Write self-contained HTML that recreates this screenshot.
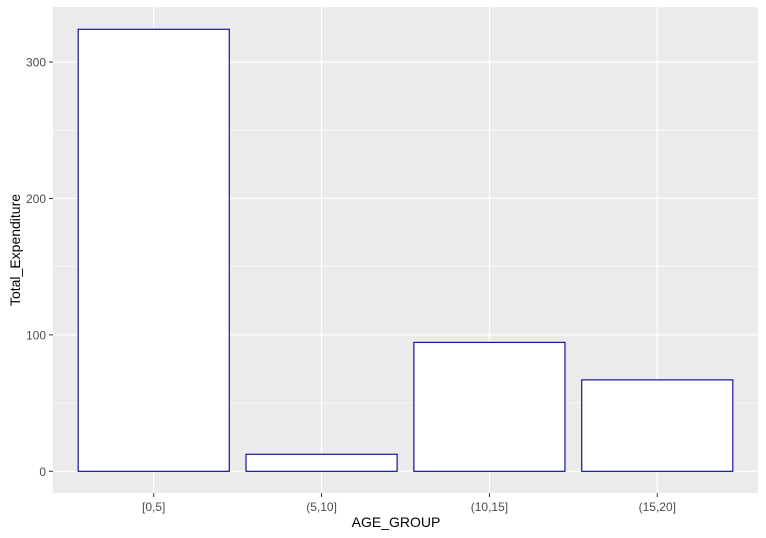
<!DOCTYPE html>
<html><head><meta charset="utf-8"><style>
body{margin:0;background:#fff;}
svg{display:block;font-family:"Liberation Sans",Arial,sans-serif;}
</style></head><body>
<svg id="chart" width="766" height="538">
<rect x="53" y="7" width="705" height="486" fill="#ebebeb"/>
<g id="grid"></g><g id="bars"></g><g id="axes"></g>
<text x="396" y="527" text-anchor="middle" font-size="14" fill="#000">AGE_GROUP</text>
<text transform="translate(20,250) rotate(-90)" text-anchor="middle" font-size="14" fill="#000">Total_Expenditure</text>
</svg>
<script>
const categories=["[0,5]","(5,10]","(10,15]","(15,20]"];
const values=[324,12.5,94.5,67];
const yTicks=[0,100,200,300];
const ns="http://www.w3.org/2000/svg";
const L=53,R=758;
const y0=471.3,k=1.3643;
function y(v){return y0-v*k;}
const step=(R-L)/(categories.length+0.2);
function x(i){return L+step*(0.6+i);}
function mk(t,a,p){const e=document.createElementNS(ns,t);for(const q in a)e.setAttribute(q,a[q]);p.appendChild(e);return e;}
const grid=document.getElementById('grid'),bars=document.getElementById('bars'),axes=document.getElementById('axes');
yTicks.forEach((v)=>{
 const m=v+50;
 if(y(m)>7){const g=mk('line',{x1:L,x2:R,y1:y(m),y2:y(m),stroke:'#fff','stroke-width':0.6},grid);}
 const g=mk('line',{x1:L,x2:R,y1:y(v),y2:y(v),stroke:'#fff','stroke-width':1.2},grid);
 
 const t=mk('line',{x1:L-4,x2:L,y1:y(v),y2:y(v),stroke:'#333','stroke-width':1},axes);
 
 const l=mk('text',{x:L-7,y:y(v)+4.5,'text-anchor':'end','font-size':12,fill:'#4d4d4d'},axes);l.textContent=v;
 
});
const bw=step*0.9;
categories.forEach((c,i)=>{
 const g=mk('line',{x1:x(i),x2:x(i),y1:7,y2:493,stroke:'#fff','stroke-width':1.2},grid);
 
 const b=mk('rect',{x:x(i)-bw/2,y:y(values[i]),width:bw,height:y0-y(values[i]),fill:'#fff',stroke:'#00008b','stroke-width':1.1},bars);
 
 const t=mk('line',{x1:x(i),x2:x(i),y1:493,y2:497,stroke:'#333','stroke-width':1},axes);
 
 const l=mk('text',{x:x(i),y:511,'text-anchor':'middle','font-size':12,fill:'#4d4d4d'},axes);l.textContent=c;
 
});
</script>
</body></html>
